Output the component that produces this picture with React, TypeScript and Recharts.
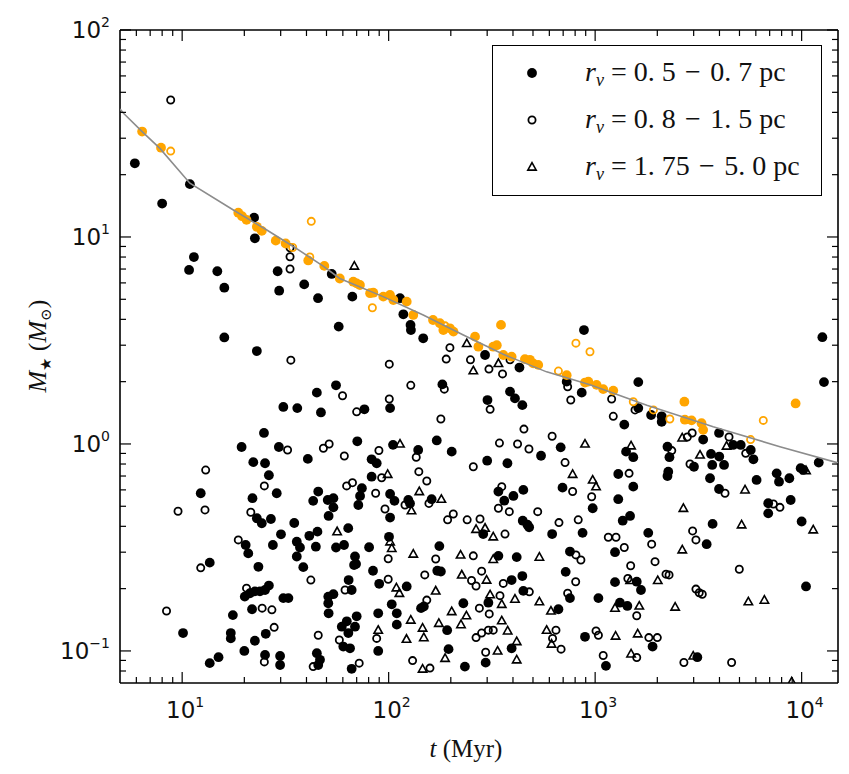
import React from 'react';
import { ScatterChart, Scatter, XAxis, YAxis, ReferenceLine, Legend } from 'recharts';

/* ── stellar mass vs. time scatter, log-log ── */

const W = 833;
const H = 758;
// plot box (chart coords)
const LEFT = 112;
const RIGHT = 830;
const TOP = 22;
const BOTTOM = 675;

const X_DOMAIN = [5, 15000];
const Y_DOMAIN = [0.07, 100];

const X_TICKS = [
  6, 7, 8, 9, 10, 20, 30, 40, 50, 60, 70, 80, 90, 100, 200, 300, 400, 500, 600, 700, 800, 900,
  1000, 2000, 3000, 4000, 5000, 6000, 7000, 8000, 9000, 10000,
];
const Y_TICKS = [
  0.08, 0.09, 0.1, 0.2, 0.3, 0.4, 0.5, 0.6, 0.7, 0.8, 0.9, 1, 2, 3, 4, 5, 6, 7, 8, 9, 10, 20, 30,
  40, 50, 60, 70, 80, 90, 100,
];

const LEGEND_LABELS = [
  '0. 5\u2004\u2212\u20040. 7',
  '0. 8\u2004\u2212\u20041. 5',
  '1. 75\u2004\u2212\u20045. 0',
];

// r_v = 0.5 - 0.7 pc  [t (Myr), M (Msun)]
const filledPts: number[][] = [
  [5.9, 22.7], [10.9, 18.0], [8.0, 14.5], [22.3, 12.4], [22.5, 9.85], [11.4, 8.0], [10.8, 6.93], [14.8, 6.83],
  [16.0, 5.69], [29.0, 6.83], [29.5, 5.5], [39.0, 5.9], [45.5, 5.06], [53, 6.63], [66.7, 5.15], [57.3, 3.69],
  [16, 3.27], [23, 2.81], [55.6, 1.92], [44.9, 1.77], [30.9, 1.51], [36.1, 1.49], [47, 1.42], [24.9, 1.13],
  [19.4, 0.967], [29.4, 0.967], [70.5, 1.03], [22.1, 0.817], [25.2, 0.807], [40.6, 0.847],
  [12.3, 0.578], [13.6, 0.267], [10.1, 0.122], [17.6, 0.149], [17.2, 0.122], [17.2, 0.115], [13.6, 0.0873], [15.0, 0.0933],
  [26.3, 0.706], [28.7, 0.578], [21.9, 0.547], [23, 0.438], [24.3, 0.414], [26.9, 0.434], [34.9, 0.415], [45.6, 0.589],
  [43.1, 0.531], [50.7, 0.536], [54, 0.547], [54, 0.494], [51.2, 0.449], [20.3, 0.325], [20.9, 0.296], [30.1, 0.366],
  [27.5, 0.325], [35.9, 0.337], [37.2, 0.316], [41.3, 0.36], [45.2, 0.377], [44.4, 0.319], [63.7, 0.392], [55.6, 0.316],
  [60.8, 0.325], [35.9, 0.286], [38.6, 0.254], [23.4, 0.255],
  [21.3, 0.19], [22.5, 0.194], [23.8, 0.194], [25.2, 0.197], [26.3, 0.207], [20.1, 0.183], [30.9, 0.18], [32.7, 0.18],
  [21.8, 0.159], [25.4, 0.121], [22.5, 0.112], [20, 0.1], [25.2, 0.0957], [29.8, 0.0946], [29.8, 0.0855], [51, 0.183],
  [54, 0.188], [51, 0.17], [51.2, 0.152], [64, 0.22], [66.2, 0.197], [59.3, 0.131], [62.7, 0.139], [63.8, 0.122],
  [68.7, 0.131], [60.3, 0.105], [65, 0.103], [44.9, 0.0975], [46.5, 0.0906], [45.6, 0.0855], [66.2, 0.082],
  [105, 0.99], [139, 0.935], [202, 0.918], [82.7, 0.843], [87.5, 0.807], [82.7, 0.695], [74.2, 0.611], [72.7, 0.561],
  [71.3, 0.507], [101.6, 0.573], [106.7, 0.531], [124.5, 0.536], [126.9, 0.516], [161.5, 0.541], [101.6, 0.441],
  [100.4, 0.356], [80.4, 0.317], [176, 0.321], [68.7, 0.286], [69.5, 0.263], [68, 0.26], [172, 0.244], [179, 0.242],
  [84, 0.244], [90, 0.211], [122.3, 0.205], [103.5, 0.168], [143.5, 0.161], [148, 0.164], [230, 0.17], [70, 0.147],
  [89, 0.152], [109.5, 0.152], [109.5, 0.134], [192, 0.126], [89, 0.1], [195, 0.102], [234, 0.084],
  [547, 0.877], [681, 0.963], [300, 0.83], [376, 0.807], [973, 0.489], [340, 0.589], [402, 0.561], [363, 0.532],
  [449, 0.6], [695, 0.615], [446, 0.426], [470, 0.407], [479, 0.396], [619, 0.367], [869, 0.372], [287, 0.367],
  [340, 0.288], [417, 0.284], [755, 0.302], [394, 0.22], [444, 0.23], [720, 0.241], [449, 0.195], [755, 0.18],
  [1037, 0.18], [304, 0.171], [664, 0.159], [394, 0.103], [295, 0.0878], [893, 0.117],
  [1808, 0.372], [3467, 0.328], [1248, 0.3], [1590, 0.216], [1667, 0.197], [1248, 0.215], [1318, 0.171], [1432, 0.165],
  [10500, 0.205], [1897, 0.105], [1128, 0.0847], [3125, 0.0933],
  [883, 3.55], [12600, 3.28], [12830, 1.99], [1618, 1.99], [861, 1.77], [1618, 1.49], [1866, 1.38], [2100, 1.36],
  [2100, 1.28], [1384, 1.24], [3335, 1.05], [3980, 1.13], [4660, 0.989], [5070, 0.989], [5670, 0.935], [5840, 0.843],
  [1412, 0.918], [1530, 0.863], [2240, 0.97], [2290, 0.863], [3640, 0.895], [3690, 0.792], [3990, 0.869], [4210, 0.792],
  [3010, 0.776], [1294, 0.716], [1530, 0.622], [2260, 0.735], [2240, 0.7], [3600, 0.683], [6050, 0.67], [7570, 0.721],
  [7770, 0.657], [8720, 0.683], [9890, 0.764], [10180, 0.749], [12100, 0.813], [3980, 0.606], [3705, 0.411],
  [6890, 0.517], [6890, 0.462], [8850, 0.536], [10000, 0.422], [1294, 0.541], [1360, 0.426], [1476, 0.449],
  [113.5, 5.06], [117.8, 4.23], [127.6, 3.76], [128.2, 3.55], [147, 3.24], [293, 2.69], [430, 2.34], [182, 1.94],
  [101.6, 1.49], [76.3, 1.47], [387, 1.79], [409, 1.66], [444, 1.54], [301, 1.63], [171, 1.04], [728, 2.0],
];

// r_v = 0.8 - 1.5 pc
const openPts: number[][] = [
  [8.8, 45.9], [33.3, 8.87], [33.3, 8.03], [33.3, 7.0], [33.6, 2.54], [59.8, 1.71], [70, 1.43], [32.4, 0.935],
  [48.3, 0.953], [51.5, 1.0], [61, 0.875], [13.0, 0.748], [9.55, 0.473], [12.9, 0.48], [18.7, 0.344], [12.3, 0.252],
  [8.4, 0.156],
  [25, 0.627], [21.5, 0.468], [66.8, 0.65], [62.6, 0.627], [42, 0.22], [20.5, 0.201], [24.4, 0.161], [27.2, 0.158],
  [27.9, 0.13], [25, 0.0885], [61.5, 0.197], [45.6, 0.119], [57.7, 0.113], [43.1, 0.084], [72, 0.0873],
  [136, 0.863], [89.7, 0.93], [92.5, 0.687], [140, 0.735], [153, 0.662], [86.5, 0.578], [120, 0.507], [156.7, 0.516],
  [96, 0.485], [193, 0.43], [205.6, 0.459], [240, 0.43], [99.5, 0.279], [169, 0.278], [257, 0.288], [99.5, 0.222],
  [149.6, 0.233], [252, 0.219], [265, 0.206], [153, 0.176], [87.5, 0.115], [130.6, 0.0898], [158.5, 0.0826],
  [344, 1.01], [421, 1.0], [478, 0.946], [257, 0.776], [715, 0.813], [962, 0.556], [353, 0.622], [778, 0.589],
  [340, 0.489], [384, 0.471], [527, 0.471], [277, 0.434], [668, 0.417], [828, 0.43], [366, 0.367], [807, 0.291],
  [853, 0.275], [282, 0.243], [359, 0.212], [805, 0.216], [480, 0.193], [736, 0.19], [346, 0.185], [275, 0.161],
  [307, 0.151], [321, 0.126], [304, 0.126], [282, 0.122], [265, 0.116], [295, 0.0986], [646, 0.126], [622, 0.115],
  [684, 0.102], [1010, 0.125], [1037, 0.119],
  [1158, 0.354], [1262, 0.354], [2965, 0.38], [3077, 0.344], [1384, 0.316], [1878, 0.328], [1950, 0.27], [1486, 0.258],
  [4990, 0.248], [1440, 0.224], [2204, 0.235], [2280, 0.233], [1590, 0.148], [3077, 0.199], [3192, 0.191], [3302, 0.188],
  [1820, 0.116], [2000, 0.116], [1094, 0.095], [1590, 0.093], [2690, 0.0879], [4580, 0.0879],
  [1202, 1.65], [1224, 1.36], [1560, 1.46], [4450, 1.08], [2795, 1.08], [2950, 1.13], [5360, 0.901], [2350, 0.929],
  [2880, 0.8], [1460, 0.721], [4255, 0.578], [7300, 0.513], [7850, 0.494],
  [198, 2.92], [190, 2.57], [249, 2.55], [387, 2.55], [306, 2.3], [356, 2.18], [100.7, 2.43], [128, 1.92],
  [186, 1.84], [100.7, 1.65], [310, 1.47], [179, 1.32], [452, 1.18], [619, 1.09], [736, 1.89], [762, 1.63],
];

// r_v = 1.75 - 5.0 pc
const trianglePts: number[][] = [
  [68.2, 7.24], [56.3, 0.377], [113.5, 1.0], [98.9, 0.714], [140.7, 0.589], [129, 0.476], [180, 0.541], [265, 0.387],
  [101.6, 0.337], [103.5, 0.313], [131.6, 0.294], [223, 0.291], [109, 0.202], [112.7, 0.19], [226, 0.233], [169, 0.195],
  [202, 0.155], [238, 0.148], [224, 0.134], [128, 0.141], [146, 0.129], [148, 0.116], [175, 0.136], [89, 0.126],
  [122, 0.114], [187.6, 0.0922], [146, 0.0818],
  [893, 1.0], [778, 0.714], [973, 0.67], [1010, 0.622], [293, 0.392], [321, 0.356], [321, 0.277], [537, 0.284],
  [298, 0.22], [310, 0.187], [353, 0.168], [409, 0.178], [537, 0.173], [611, 0.156], [353, 0.14], [377, 0.125],
  [417, 0.111], [337, 0.1], [417, 0.0906], [582, 0.126], [615, 0.108],
  [2642, 0.308], [1477, 0.219], [2010, 0.219], [1248, 0.161], [1636, 0.165], [2440, 0.163], [5520, 0.173], [6600, 0.176],
  [1256, 0.118], [1607, 0.121], [1493, 0.0968], [2985, 0.0946], [8950, 0.071], [11380, 0.385],
  [2640, 1.07], [4330, 0.977], [1493, 0.98], [3220, 0.885], [10500, 0.743], [5320, 0.6], [2675, 0.489], [5120, 0.407],
  [239, 3.06], [340, 2.45], [257, 2.26],
];

// stars sitting on the lifetime track
const orangeFilledPts: number[][] = [
  [6.4, 32.3], [7.9, 27.0], [18.7, 13.1], [19.5, 12.6], [20.5, 12.1], [23, 11.2], [24.3, 10.7], [28.4, 9.6],
  [31.7, 9.3], [40.8, 7.7], [48.8, 7.25], [58, 6.3], [67.4, 6.08], [70, 5.97], [72.6, 5.86], [81.3, 5.35],
  [84.3, 5.38], [94.2, 5.15], [101.5, 5.25], [105.4, 4.96], [122.3, 4.87], [131.6, 4.2], [164, 3.97], [177, 3.83],
  [184, 3.55], [198, 3.62], [206, 3.49], [350, 3.76], [262, 3.3], [272, 2.95], [321, 2.95], [334, 3.0],
  [359, 2.69], [394, 2.64], [457, 2.57], [483, 2.55], [501, 2.45], [530, 2.41], [728, 2.15], [893, 1.98],
  [927, 2.0], [1016, 1.93], [1094, 1.84], [1224, 1.81], [2705, 1.6], [2720, 1.31], [2930, 1.3], [3275, 1.26],
  [3335, 1.17], [9350, 1.57],
];

const orangeOpenPts: number[][] = [
  [8.8, 26.0], [42.2, 11.9], [34.3, 8.9], [41.5, 8.0], [83.4, 4.55], [187.6, 3.72], [664, 2.25], [807, 3.07],
  [944, 2.79], [1530, 1.6], [1915, 1.46], [2300, 1.32], [6520, 1.3], [5660, 1.05],
];

// main-sequence lifetime track
const trackT = [5, 5.2, 6.4, 7.8, 10.9, 17.7, 25.7, 34.5, 48, 58, 94, 147, 230, 359, 582, 944, 1780, 3730, 7850, 15000];
const trackM = [41.5, 39.6, 32.3, 26.8, 18.2, 13.5, 10.8, 9.0, 7.25, 6.3, 5.15, 4.2, 3.36, 2.71, 2.23, 1.93, 1.54, 1.21, 0.97, 0.81];

const ORANGE = '#FFA500';
const SERIF = '"Liberation Serif", "DejaVu Serif", serif';
const SANS = '"DejaVu Sans", sans-serif';

const toRows = (pts: number[][]) => pts.map(([t, m]) => ({ t, m }));
const trackRows = trackT.map((t, i) => ({ t, m: trackM[i] }));

const FilledDot = ({ cx, cy, fill }: any) => <circle cx={cx} cy={cy} r={4.9} fill={fill} />;
const OpenDot = ({ cx, cy, stroke }: any) => (
  <circle cx={cx} cy={cy} r={3.6} fill="none" stroke={stroke} strokeWidth={1.8} />
);
const Tri = ({ cx, cy }: any) => (
  <path
    d={`M${cx},${cy - 4.4} L${cx + 4.2},${cy + 3.1} L${cx - 4.2},${cy + 3.1} Z`}
    fill="none"
    stroke="#000"
    strokeWidth={1.6}
    strokeLinejoin="miter"
  />
);
const NoMark = () => <g />;

const isMajor = (v: number) => {
  const e = Math.log10(v);
  return Math.abs(e - Math.round(e)) < 1e-6;
};
const expText = (v: number) => {
  const e = Math.round(Math.log10(v));
  return e < 0 ? `\u2212${-e}` : `${e}`;
};

const XTick = ({ x, payload }: any) => {
  const v = payload.value;
  const major = isMajor(v);
  const len = major ? 11 : 6;
  return (
    <g>
      <line x1={x} x2={x} y1={BOTTOM} y2={BOTTOM - len} stroke="#000" strokeWidth={1.2} />
      <line x1={x} x2={x} y1={TOP} y2={TOP + len} stroke="#000" strokeWidth={1.2} />
      {major && (
        <text x={x + 3} y={BOTTOM + 35} textAnchor="middle" fontFamily={SANS} fontSize={23} fill="#111">
          10
          <tspan dy={-11} fontSize={14}>
            {expText(v)}
          </tspan>
        </text>
      )}
    </g>
  );
};

const YTick = ({ y, payload }: any) => {
  const v = payload.value;
  const major = isMajor(v);
  const len = major ? 11 : 6;
  return (
    <g>
      <line x1={LEFT} x2={LEFT + len} y1={y} y2={y} stroke="#000" strokeWidth={1.2} />
      <line x1={RIGHT} x2={RIGHT - len} y1={y} y2={y} stroke="#000" strokeWidth={1.2} />
      {major && (
        <text x={LEFT - 10} y={y + 8} textAnchor="end" fontFamily={SANS} fontSize={23} fill="#111">
          10
          <tspan dy={-11} fontSize={14}>
            {expText(v)}
          </tspan>
        </text>
      )}
    </g>
  );
};

const XTitle = () => (
  <text x={458} y={749} textAnchor="middle" fontFamily={SERIF} fontSize={25} fill="#111">
    <tspan fontStyle="italic">t</tspan>
    <tspan> (Myr)</tspan>
  </text>
);

const YTitle = () => (
  <text
    x={38}
    y={338}
    transform="rotate(-90, 38, 338)"
    textAnchor="middle"
    fontFamily={SERIF}
    fontSize={26}
    fill="#111"
  >
    <tspan fontStyle="italic">M</tspan>
    <tspan fontSize={15} dy={5}>★</tspan>
    <tspan dy={-5}> (</tspan>
    <tspan fontStyle="italic">M</tspan>
    <tspan fontSize={15} dy={5}>⊙</tspan>
    <tspan dy={-5}>)</tspan>
  </text>
);

const LegendMark = ({ kind }: { kind: number }) => (
  <svg width={16} height={16} style={{ position: 'absolute', left: 31, top: -8 }}>
    {kind === 0 && <circle cx={8} cy={8} r={4.9} fill="#000" />}
    {kind === 1 && <circle cx={8} cy={8} r={3.6} fill="none" stroke="#000" strokeWidth={1.8} />}
    {kind === 2 && <path d="M8,3.6 L12.2,11.1 L3.8,11.1 Z" fill="none" stroke="#000" strokeWidth={1.6} />}
  </svg>
);

const LegendBox = () => (
  <div
    style={{
      position: 'relative',
      width: 330,
      height: 151,
      boxSizing: 'border-box',
      border: '1.5px solid #000',
      background: '#fff',
      fontFamily: SERIF,
      fontSize: 28,
      color: '#111',
    }}
  >
    {LEGEND_LABELS.map((lab, i) => (
      <div key={i} style={{ position: 'absolute', left: 0, top: 27 + i * 47, width: '100%', height: 0 }}>
        <LegendMark kind={i} />
        <div style={{ position: 'absolute', left: 92, top: -18, whiteSpace: 'nowrap', lineHeight: '34px' }}>
          <i>r</i>
          <sub style={{ fontSize: 18, verticalAlign: -5 }}>
            <i>v</i>
          </sub>
          {' = '}
          {lab}
          {' pc'}
        </div>
      </div>
    ))}
  </div>
);

export default function App() {
  return (
    <ScatterChart width={W} height={H} margin={{ top: TOP, right: W - RIGHT, bottom: 0, left: 0 }}>
      <XAxis
        type="number"
        dataKey="t"
        scale="log"
        domain={X_DOMAIN}
        allowDataOverflow
        ticks={X_TICKS}
        interval={0}
        tick={<XTick />}
        tickLine={false}
        tickSize={0}
        tickMargin={0}
        height={H - BOTTOM}
        axisLine={{ stroke: '#000', strokeWidth: 1.6 }}
        label={<XTitle />}
      />
      <YAxis
        type="number"
        dataKey="m"
        scale="log"
        domain={Y_DOMAIN}
        allowDataOverflow
        ticks={Y_TICKS}
        interval={0}
        tick={<YTick />}
        tickLine={false}
        tickSize={0}
        tickMargin={0}
        width={LEFT}
        axisLine={{ stroke: '#000', strokeWidth: 1.6 }}
        label={<YTitle />}
      />
      <ReferenceLine y={100} stroke="#000" strokeWidth={1.6} ifOverflow="visible" />
      <ReferenceLine x={15000} stroke="#000" strokeWidth={1.6} ifOverflow="visible" />
      <Legend
        layout="horizontal"
        verticalAlign="middle"
        align="center"
        wrapperStyle={{ top: 37, left: 484, width: 330, height: 151 }}
        content={() => <LegendBox />}
      />
      <Scatter name="r_v = 0.5-0.7 pc" data={toRows(filledPts)} fill="#000" shape={FilledDot} isAnimationActive={false} />
      <Scatter name="r_v = 0.8-1.5 pc" data={toRows(openPts)} stroke="#000" shape={OpenDot} isAnimationActive={false} />
      <Scatter name="r_v = 1.75-5.0 pc" data={toRows(trianglePts)} shape={Tri} isAnimationActive={false} />
      <Scatter data={toRows(orangeFilledPts)} fill={ORANGE} shape={FilledDot} isAnimationActive={false} legendType="none" />
      <Scatter data={toRows(orangeOpenPts)} stroke={ORANGE} shape={OpenDot} isAnimationActive={false} legendType="none" />
      <Scatter
        data={trackRows}
        shape={NoMark}
        line={{ stroke: '#8c8c8c', strokeWidth: 1.6 }}
        lineType="joint"
        isAnimationActive={false}
        legendType="none"
      />
    </ScatterChart>
  );
}
